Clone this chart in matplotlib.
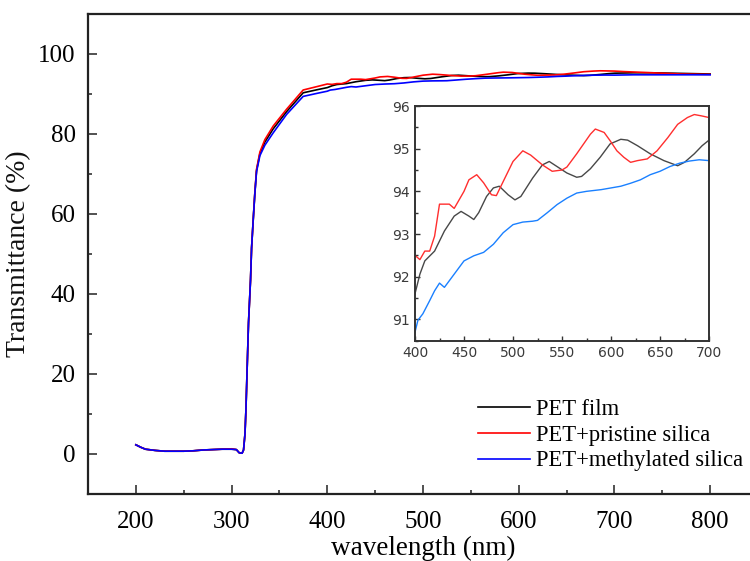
import matplotlib
matplotlib.use("Agg")
import matplotlib.pyplot as plt
from matplotlib.ticker import MultipleLocator

# ---------------- data ----------------
wl_low = [200, 205, 210, 220, 230, 250, 260, 270, 280, 290, 300, 305, 308, 311,
          312.5, 314, 315, 316.3, 317.7, 319.8, 320.9, 322.6, 324.3, 326.1, 329.6]
t_low_film = [2.3, 1.7, 1.2, 0.9, 0.7, 0.7, 0.8, 1.0, 1.1, 1.2, 1.2, 1.1, 0.3, 0.2,
              1.0, 5.0, 11.0, 21.6, 32.8, 43.5, 51.5, 58.5, 65.1, 70.9, 75.1]
t_low_pristine = [2.3, 1.7, 1.2, 0.9, 0.7, 0.7, 0.8, 1.0, 1.1, 1.2, 1.3, 1.1, 0.3, 0.2,
                  1.0, 5.0, 11.0, 21.6, 32.8, 43.5, 51.5, 58.5, 65.3, 71.2, 75.5]
t_low_methyl = [2.3, 1.7, 1.2, 0.9, 0.7, 0.7, 0.8, 1.0, 1.1, 1.2, 1.2, 1.1, 0.3, 0.2,
                1.0, 5.0, 11.0, 21.6, 32.8, 43.5, 51.5, 58.5, 65.0, 70.6, 74.6]

# PET film
wl_film = [334.8, 343.5, 357.5, 374.8, 390,
           400, 405, 410, 420, 430, 440, 447, 455, 460, 465, 473, 480, 486, 495, 502,
           508, 520, 530, 537, 545, 555, 565, 570, 579, 589, 599, 610, 617, 627, 640,
           654, 668, 675, 685, 693, 700, 720, 740, 760, 780, 800]
t_film = [78.0, 81.3, 85.6, 90.3, 91.1,
          91.6, 92.06, 92.37, 92.6, 93.07, 93.42, 93.53, 93.42, 93.34, 93.5, 93.88,
          94.08, 94.12, 93.92, 93.8, 93.88, 94.31, 94.62, 94.7, 94.58, 94.43, 94.33,
          94.35, 94.53, 94.8, 95.11, 95.22, 95.2, 95.07, 94.88, 94.72, 94.6, 94.68,
          94.88, 95.07, 95.2, 95.3, 95.3, 95.2, 95.1, 95.0]

# PET + pristine silica
wl_pristine = [334.8, 343.5, 357.5, 374.8, 390,
               400, 405, 410, 415, 420, 425, 435, 440, 450, 455, 463, 470, 478, 483,
               490, 500, 510, 518, 530, 540, 550, 555, 565, 579, 584, 593, 599, 606,
               613, 620, 627, 637, 647, 658, 668, 678, 685, 692, 700, 710, 730, 750,
               770, 800]
t_pristine = [78.6, 82.0, 86.2, 91.0, 91.9,
              92.5, 92.4, 92.6, 92.6, 92.95, 93.7, 93.7, 93.6, 94.0, 94.27, 94.39,
              94.2, 93.92, 93.9, 94.23, 94.7, 94.95, 94.85, 94.62, 94.47, 94.5,
              94.57, 94.88, 95.34, 95.46, 95.38, 95.19, 94.95, 94.8, 94.68, 94.72,
              94.76, 94.95, 95.26, 95.57, 95.73, 95.8, 95.77, 95.73, 95.6, 95.4,
              95.2, 95.0, 94.9]

# PET + methylated silica
wl_methyl = [334.8, 343.5, 357.5, 374.8, 390,
             400, 403, 408, 415, 420, 425, 430, 440, 450, 460, 470, 480, 490, 500,
             510, 520, 525, 535, 545, 555, 565, 575, 590, 600, 610, 620, 630, 640,
             650, 660, 670, 680, 690, 700, 720, 760, 800]
t_methyl = [77.2, 80.3, 84.9, 89.4, 90.2,
            90.7, 90.98, 91.13, 91.44, 91.67, 91.85, 91.75, 92.06, 92.37, 92.49,
            92.57, 92.76, 93.03, 93.22, 93.28, 93.3, 93.32, 93.5, 93.69, 93.84,
            93.96, 94.0, 94.04, 94.08, 94.12, 94.19, 94.27, 94.39, 94.47, 94.58,
            94.66, 94.71, 94.74, 94.72, 94.8, 94.8, 94.8]

labels = ["PET film", "PET+pristine silica", "PET+methylated silica"]
main_colors = ["#000000", "#ff0000", "#0000ff"]
inset_colors = ["#484848", "#ff2e2e", "#1a80ff"]

series = [
    (wl_low + wl_film, t_low_film + t_film),
    (wl_low + wl_pristine, t_low_pristine + t_pristine),
    (wl_low + wl_methyl, t_low_methyl + t_methyl),
]

# ---------------- figure ----------------
plt.rcParams["font.family"] = ["Liberation Serif", "DejaVu Serif"]
fig = plt.figure(figsize=(7.5, 5.61), dpi=100)

ax = fig.add_axes([88 / 750, 1 - 494 / 561, 670 / 750, 480 / 561])
lines = []
for (x, y), c, lab in zip(series, main_colors, labels):
    ln, = ax.plot(x, y, color=c, lw=1.2, label=lab)
    lines.append(ln)

ax.set_xlim(150, 850)
ax.set_ylim(-10, 110)
ax.xaxis.set_major_locator(MultipleLocator(100))
ax.xaxis.set_minor_locator(MultipleLocator(50))
ax.yaxis.set_major_locator(MultipleLocator(20))
ax.yaxis.set_minor_locator(MultipleLocator(10))
ax.tick_params(which="both", direction="in", top=False, right=False,
               width=1.1, color="#222222")
ax.tick_params(which="major", length=6.5, labelsize=18)
ax.tick_params(which="minor", length=3.2)
ax.tick_params(axis="x", which="major", pad=12)
ax.tick_params(axis="y", which="major", pad=9)
for sp in ax.spines.values():
    sp.set_linewidth(1.6)
    sp.set_color("#222222")
ax.spines["right"].set_visible(False)
ax.set_xlabel("wavelength (nm)", fontsize=19.5, labelpad=2)
ax.set_ylabel("Transmittance (%)", fontsize=20, color="#111111", labelpad=5)

fig.legend(handles=lines, labels=labels, loc="center left",
           bbox_to_anchor=(478 / 750, 1 - 435 / 561), frameon=False,
           fontsize=16.3, handlelength=2.3, handletextpad=0.25, labelspacing=0.22,
           borderpad=0, borderaxespad=0)

# ---------------- inset ----------------
axi = fig.add_axes([415 / 750, 1 - 340.7 / 561, 294 / 750, 234.7 / 561])
for (x, y), c in zip(series, inset_colors):
    axi.plot(x, y, color=c, lw=1.0)
axi.set_xlim(400, 700)
axi.set_ylim(90.5, 96)
axi.xaxis.set_major_locator(MultipleLocator(50))
axi.xaxis.set_minor_locator(MultipleLocator(25))
axi.yaxis.set_major_locator(MultipleLocator(1))
axi.yaxis.set_minor_locator(MultipleLocator(0.5))
axi.tick_params(which="both", direction="in", top=False, right=False,
                width=1.0, color="#333333")
axi.tick_params(which="major", length=3.5, labelsize=10, labelcolor="#3a3a3a",
                pad=4)
axi.tick_params(which="minor", length=2)
for lab in axi.get_xticklabels() + axi.get_yticklabels():
    lab.set_family("DejaVu Sans")
for sp in axi.spines.values():
    sp.set_linewidth(1.4)
    sp.set_color("#333333")

fig.savefig("out.png", dpi=100)
